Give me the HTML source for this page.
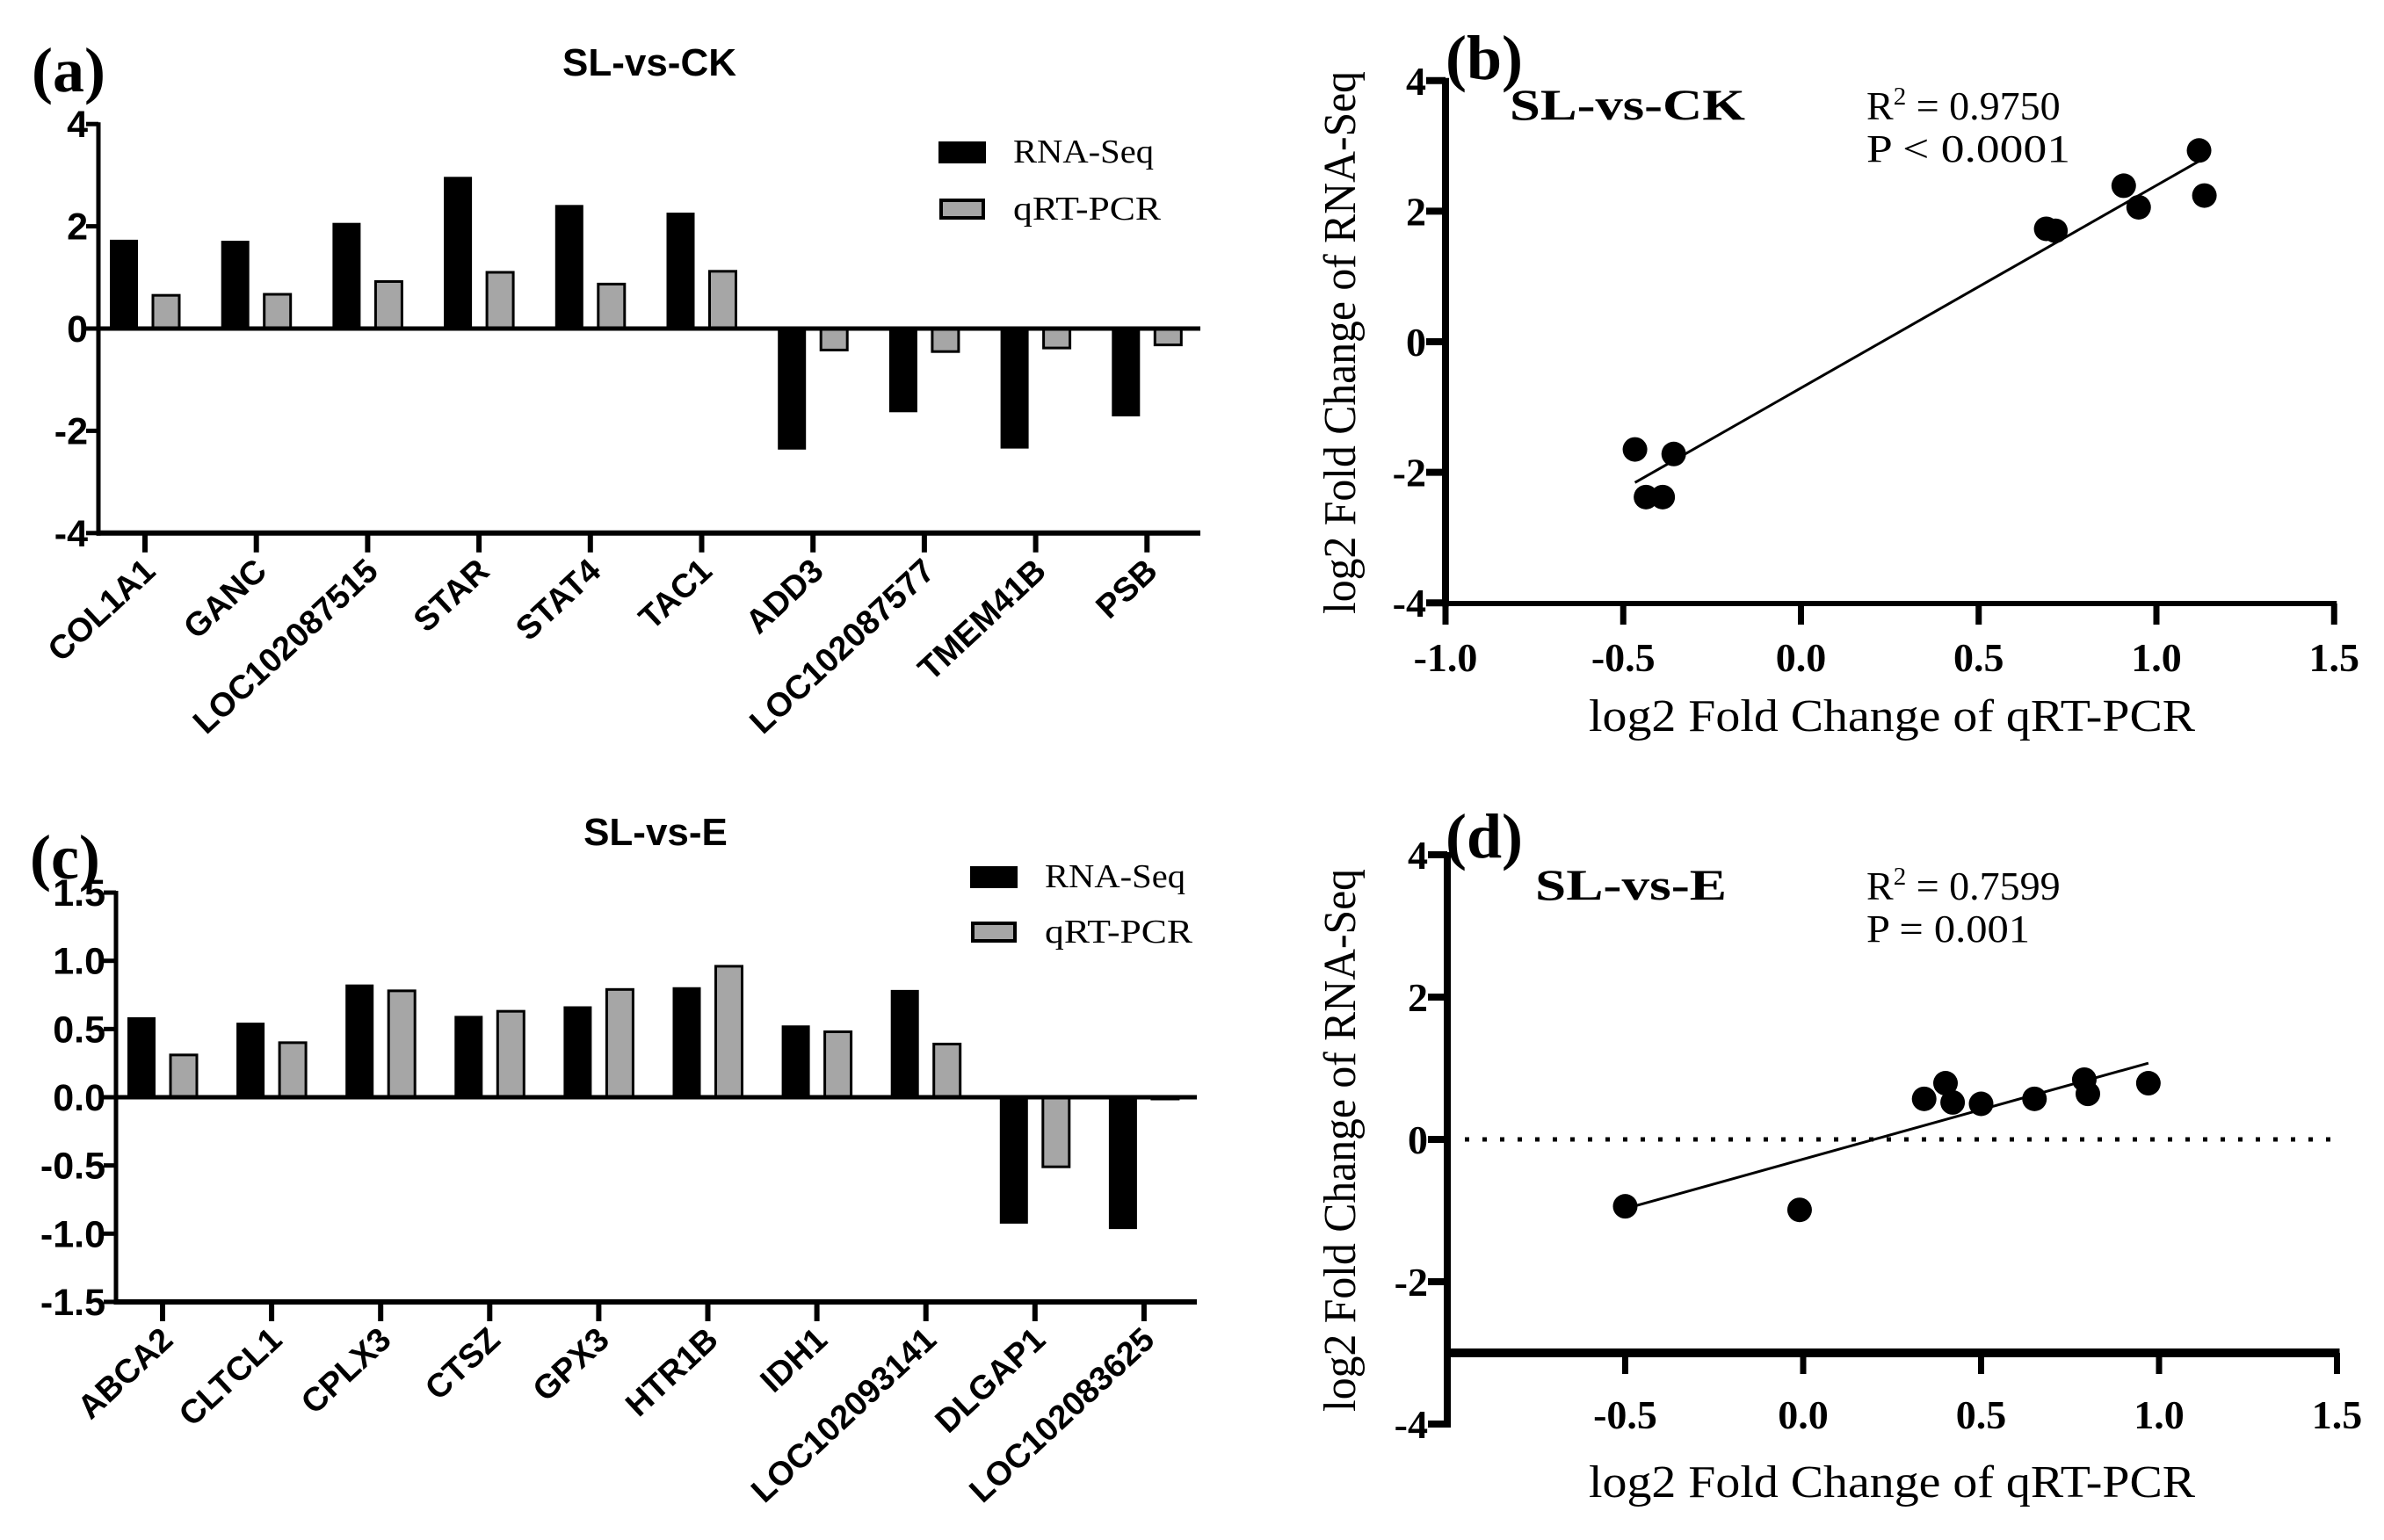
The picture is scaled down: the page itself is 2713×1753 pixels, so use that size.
<!DOCTYPE html>
<html><head><meta charset="utf-8"><style>
html,body{margin:0;padding:0;background:#fff;}
svg{display:block;}
.arial{font-family:"Liberation Sans",Arial,sans-serif;font-weight:bold;}
.times{font-family:"Liberation Serif","Times New Roman",serif;}
</style></head><body>
<svg id="fig" width="2713" height="1753" viewBox="0 0 2713 1753" xmlns="http://www.w3.org/2000/svg"></svg>
<script>
// ---- Panel (a) data ----
const catsA = ["COL1A1","GANC","LOC102087515","STAR","STAT4","TAC1","ADD3","LOC102087577","TMEM41B","PSB"];
const rnaA = [1.72,1.70,2.05,2.95,2.40,2.25,-2.35,-1.62,-2.33,-1.70];
const qpcrA = [0.65,0.67,0.92,1.10,0.87,1.12,-0.42,-0.45,-0.38,-0.32];
const ticksA = [4,2,0,-2,-4];
const tickLabelsA = ["4","2","0","-2","-4"];
// ---- Panel (c) data ----
const catsC = ["ABCA2","CLTCL1","CPLX3","CTSZ","GPX3","HTR1B","IDH1","LOC102093141","DLGAP1","LOC102083625"];
const rnaC = [0.58,0.54,0.82,0.59,0.66,0.80,0.52,0.78,-0.92,-0.96];
const qpcrC = [0.31,0.40,0.78,0.63,0.79,0.96,0.48,0.39,-0.51,-0.01];
const ticksC = [1.5,1.0,0.5,0,-0.5,-1.0,-1.5];
const tickLabelsC = ["1.5","1.0","0.5","0.0","-0.5","-1.0","-1.5"];
// ---- Panel (b) data ----
const xB = [-0.467,-0.358,-0.436,-0.389,0.69,0.716,0.908,0.95,1.12,1.135];
const yB = [-1.65,-1.72,-2.38,-2.38,1.73,1.70,2.39,2.06,2.93,2.24];
// ---- Panel (d) data ----
const xD = [-0.50,-0.01,0.34,0.40,0.42,0.50,0.65,0.79,0.80,0.97];
const yD = [-0.94,-0.99,0.57,0.79,0.52,0.50,0.57,0.84,0.64,0.79];
const xTicksBD = [-1.0,-0.5,0.0,0.5,1.0,1.5];
const xTickLabelsBD = ["-1.0","-0.5","0.0","0.5","1.0","1.5"];
const yTicksBD = [4,2,0,-2,-4];
const yTickLabelsBD = ["4","2","0","-2","-4"];

const NS="http://www.w3.org/2000/svg";
const svg=document.getElementById('fig');
function mk(tag,attrs,parent,txt){const e=document.createElementNS(NS,tag);for(const k in attrs)e.setAttribute(k,attrs[k]);if(txt!==undefined)e.textContent=txt;(parent||svg).appendChild(e);return e;}
function line(x1,y1,x2,y2,w,p,extra){const l=mk('line',Object.assign({x1,y1,x2,y2,stroke:'#000','stroke-width':w},extra||{}),p);return l;}

function barPanel(cfg){
  const g=mk('g',{});
  
  
  const y=v=>cfg.y0-(v)*cfg.ppu;
  const x0=cfg.axisX, x1=cfg.axisRight;
  const bottom=y(cfg.min);
  const xs=i=>cfg.firstTick+i*cfg.step;
  cfg.cats.forEach((c,i)=>{
    const cx=xs(i);
    const v1=cfg.rna[i], v2=cfg.qpcr[i];
    const b=mk('rect',{x:cx-24-15,y:Math.min(y(v1),y(0)),width:30,height:Math.abs(y(v1)-y(0)),fill:'#000',stroke:'#000','stroke-width':2},g);
    
    
    const q=mk('rect',{x:cx+24-15,y:Math.min(y(v2),y(0)),width:30,height:Math.max(2,Math.abs(y(v2)-y(0))),fill:'#a6a6a6',stroke:'#000','stroke-width':3},g);
    
    
    const t=line(cx,bottom,cx,bottom+22,6,g);
    
    
    const lb=mk('text',{class:'arial','font-size':38,'text-anchor':'end',transform:`translate(${cx+14},${bottom+46}) rotate(-43)`},g,c);
    
    
  });
  const z=line(x0,y(0),x1,y(0),5,g);
  
  
  const ya=line(x0,y(cfg.max)-2,x0,bottom+3,5,g);
  
  
  const xa=line(x0-2,bottom,x1,bottom,6,g);
  
  
  cfg.ticks.forEach((v,i)=>{
    const t=line(x0-14,y(v),x0,y(v),5,g);
    
    
    const l=mk('text',{class:'arial','font-size':43,'text-anchor':'end',x:x0-12,y:y(v)+15},g,cfg.tickLabels[i]);
    
    
  });
  const tt=mk('text',{class:'arial','font-size':44,'text-anchor':'middle',x:cfg.titleX,y:cfg.titleY},g,cfg.title);
  
  
  const pl=mk('text',{class:'times','font-size':72,'font-weight':'bold',x:cfg.labX,y:cfg.labY},g,cfg.lab);
  
  
  const lg=mk('g',{},g);
  
  
  const r1=mk('rect',{x:cfg.legX,y:cfg.legY1-11,width:52,height:23,fill:'#000',stroke:'#000','stroke-width':2},lg);
  
  
  const t1=mk('text',{class:'times','font-size':38,x:cfg.legX+84,y:cfg.legY1+12,textLength:160,lengthAdjust:'spacingAndGlyphs'},lg,'RNA-Seq');
  
  
  const r2=mk('rect',{x:cfg.legX+2,y:cfg.legY2-10,width:48,height:20,fill:'#a6a6a6',stroke:'#000','stroke-width':4},lg);
  
  
  const t2=mk('text',{class:'times','font-size':38,x:cfg.legX+84,y:cfg.legY2+12,textLength:168,lengthAdjust:'spacingAndGlyphs'},lg,'qRT-PCR');
  
  
}

barPanel({name:'bar-chart-sl-vs-ck',cats:catsA,rna:rnaA,qpcr:qpcrA,ticks:ticksA,tickLabels:tickLabelsA,
  y0:374,ppu:58.2,max:4,min:-4,axisX:112,axisRight:1366,firstTick:165,step:126.7,
  title:'SL-vs-CK',titleX:739,titleY:86,lab:'(a)',labX:36,labY:104,legX:1069,legY1:173,legY2:238});
barPanel({name:'bar-chart-sl-vs-e',cats:catsC,rna:rnaC,qpcr:qpcrC,ticks:ticksC,tickLabels:tickLabelsC,
  y0:1249,ppu:155.3,max:1.5,min:-1.5,axisX:132,axisRight:1362,firstTick:185,step:124.1,
  title:'SL-vs-E',titleX:746,titleY:962,lab:'(c)',labX:34,labY:1000,legX:1105,legY1:998,legY2:1061});

function scatterPanel(cfg){
  const g=mk('g',{});
  
  
  const X=v=>cfg.xOrig+(v-(-1))*cfg.ppx;
  const Y=v=>cfg.y0-v*cfg.ppy;
  const ya=line(cfg.xOrig,Y(4)-3,cfg.xOrig,Y(-4)+4,8,g);
  
  
  const xaY=cfg.xAxisY;
  const xa=line(cfg.xOrig-4,xaY,X(1.5)+3,xaY,cfg.xAxisW,g);
  
  
  yTicksBD.forEach((v,i)=>{
    const t=line(cfg.xOrig-22,Y(v),cfg.xOrig,Y(v),8,g);
    
    
    const l=mk('text',{class:'times','font-size':46,'font-weight':'bold','text-anchor':'end',x:cfg.xOrig-22,y:Y(v)+16},g,yTickLabelsBD[i]);
    
    
  });
  xTicksBD.forEach((v,i)=>{
    if(cfg.skipFirstX && i===0) return;
    const t=line(X(v),xaY,X(v),xaY+24,7,g);
    
    
    const l=mk('text',{class:'times','font-size':46,'font-weight':'bold','text-anchor':'middle',x:X(v),y:cfg.xLabY},g,xTickLabelsBD[i]);
    
    
  });
  if(cfg.dotted){
    const d=line(cfg.xOrig+20,Y(0),X(1.5),Y(0),5,g,{'stroke-dasharray':'5 15'});
    
    
  }
  const xs=cfg.xs, ys=cfg.ys, n=xs.length;
  const mx=xs.reduce((a,b)=>a+b)/n, my=ys.reduce((a,b)=>a+b)/n;
  let sxy=0,sxx=0;for(let i=0;i<n;i++){sxy+=(xs[i]-mx)*(ys[i]-my);sxx+=(xs[i]-mx)**2;}
  const m=sxy/sxx,b=my-m*mx;
  const xmin=Math.min(...xs),xmax=Math.max(...xs);
  const rl=line(X(xmin),Y(m*xmin+b),X(xmax),Y(m*xmax+b),3,g);
  
  
  xs.forEach((v,i)=>{
    const c=mk('ellipse',{cx:X(v),cy:Y(ys[i]),rx:14,ry:14,fill:'#000'},g);
    
    
  });
  const xl=mk('text',{class:'times','font-size':52,'text-anchor':'middle',x:2153,y:cfg.xTitleY,textLength:690,lengthAdjust:'spacingAndGlyphs'},g,'log2 Fold Change of qRT-PCR');
  
  
  const yl=mk('text',{class:'times','font-size':52,'text-anchor':'middle',transform:`translate(1542,${cfg.yTitleY}) rotate(-90)`,textLength:618,lengthAdjust:'spacingAndGlyphs'},g,'log2 Fold Change of RNA-Seq');
  
  
  const pl=mk('text',{class:'times','font-size':72,'font-weight':'bold',x:1645,y:cfg.labY},g,cfg.lab);
  
  
  const st=mk('text',{class:'times','font-size':50,'font-weight':'bold',x:cfg.subX,y:cfg.subY,textLength:cfg.subW,lengthAdjust:'spacingAndGlyphs'},g,cfg.sub);
  
  
  const r2=mk('text',{class:'times','font-size':46,x:2124,y:cfg.subY},g);
  
  
  mk('tspan',{},r2,'R');
  mk('tspan',{dy:-17,'font-size':29},r2,'2');
  mk('tspan',{dy:17},r2,' = '+cfg.r2);
  const pv=mk('text',{class:'times','font-size':44,x:2124,y:cfg.subY+48,textLength:cfg.pW,lengthAdjust:'spacingAndGlyphs'},g,cfg.p);
  
  
}

scatterPanel({name:'scatter-sl-vs-ck',xs:xB,ys:yB,xOrig:1645,ppx:404.5,y0:389,ppy:74.3,xAxisY:687,xAxisW:6,
  xLabY:764,xTitleY:832,yTitleY:390,labY:90,lab:'(b)',sub:'SL-vs-CK',subX:1718,subY:136,subW:268,r2:'0.9750',p:'P  <  0.0001',pW:232});
scatterPanel({name:'scatter-sl-vs-e',xs:xD,ys:yD,xOrig:1647,ppx:405,y0:1297,ppy:81,xAxisY:1540,xAxisW:10,skipFirstX:true,dotted:true,
  xLabY:1626,xTitleY:1704,yTitleY:1298,labY:976,lab:'(d)',sub:'SL-vs-E',subX:1747,subY:1024,subW:218,r2:'0.7599',p:'P = 0.001',pW:186});
</script>
</body></html>
